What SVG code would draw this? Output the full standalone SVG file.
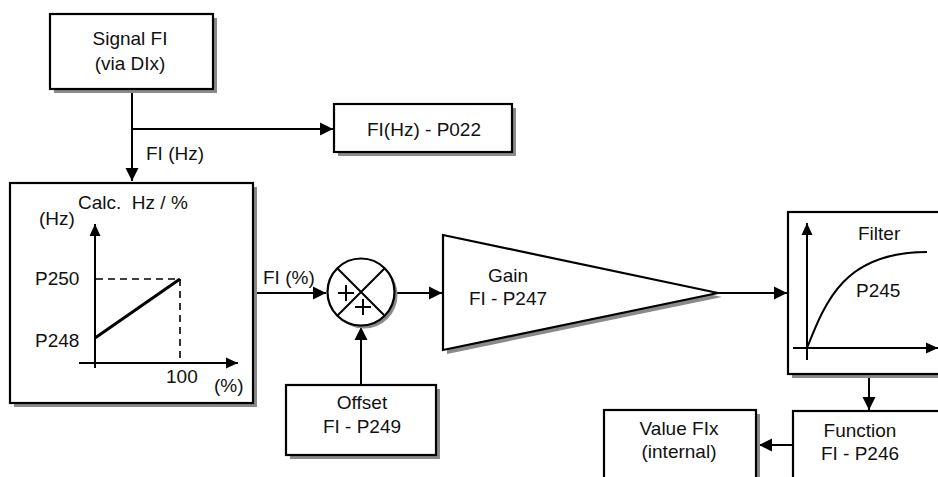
<svg xmlns="http://www.w3.org/2000/svg" width="938" height="477" viewBox="0 0 938 477">
<defs>
<marker id="ah" markerUnits="userSpaceOnUse" markerWidth="14" markerHeight="14" viewBox="0 0 14 14" refX="13" refY="7" orient="auto">
<path d="M0,0.5 L13,7 L0,13.5 Z" fill="#000"/>
</marker>
<marker id="ahs" markerUnits="userSpaceOnUse" markerWidth="13" markerHeight="12" viewBox="0 0 13 12" refX="12" refY="6" orient="auto">
<path d="M0,0.5 L12,6 L0,11.5 Z" fill="#000"/>
</marker>
</defs>
<style>
.box{fill:#fff;stroke:#000;stroke-width:2.2}
.sh{fill:#8a8a8a;stroke:none}
.ln{fill:none;stroke:#000;stroke-width:2}
.t{font-family:"Liberation Sans",Arial,sans-serif;font-size:19px;fill:#111}
.c{text-anchor:middle}
.dash{fill:none;stroke:#000;stroke-width:1.6;stroke-dasharray:7,5}
</style>
<rect width="938" height="477" fill="#fff"/>

<g id="connectors">
<path class="ln" d="M132,89 V181" marker-end="url(#ah)"/>
<path class="ln" d="M132,129 H333" marker-end="url(#ah)"/>
<path class="ln" d="M254,293 H326" marker-end="url(#ah)"/>
<path class="ln" d="M395,293 H442" marker-end="url(#ah)"/>
<path class="ln" d="M361,385 V327" marker-end="url(#ah)"/>
<path class="ln" d="M718,293 H787" marker-end="url(#ah)"/>
<path class="ln" d="M869,375 V410" marker-end="url(#ah)"/>
<path class="ln" d="M793,445 H759" marker-end="url(#ah)"/>
</g>

<g id="signal">
<rect class="sh" x="54" y="18" width="163" height="75"/>
<rect class="box" x="50" y="14" width="163" height="75"/>
<text class="t c" x="130" y="45">Signal FI</text>
<text class="t c" x="130" y="70">(via DIx)</text>
</g>
<text class="t" x="146" y="160">FI (Hz)</text>

<g id="p022">
<rect class="sh" x="338" y="108" width="178" height="48"/>
<rect class="box" x="334" y="104" width="178" height="48"/>
<text class="t c" x="424" y="136">FI(Hz) - P022</text>
</g>

<g id="calc">
<rect class="sh" x="14" y="187" width="243" height="220"/>
<rect class="box" x="10" y="183" width="243" height="220"/>
<text class="t" x="78" y="209" style="white-space:pre">Calc.  Hz / %</text>
<text class="t" x="39" y="225">(Hz)</text>
<path class="ln" d="M95,368 V224" marker-end="url(#ahs)"/>
<path class="ln" d="M79,363 H238" marker-end="url(#ahs)"/>
<path class="dash" d="M96,279 H180 V362"/>
<path fill="none" stroke="#000" stroke-width="3" d="M95,338 L180,279"/>
<text class="t" x="35" y="285">P250</text>
<text class="t" x="35" y="347">P248</text>
<text class="t" x="166" y="383">100</text>
<text class="t" x="214" y="392">(%)</text>
</g>
<text class="t" x="263" y="284">FI (%)</text>

<g id="sum">
<circle cx="364" cy="295" r="33.5" fill="#8a8a8a"/>
<circle cx="361" cy="292" r="33.5" fill="#fff" stroke="#000" stroke-width="2.2"/>
<path class="ln" d="M337.3,268.3 L384.7,315.7 M384.7,268.3 L337.3,315.7"/>
<path class="ln" d="M338,293 H354 M346,285 V301 M355,307 H371 M363,299 V315"/>
</g>

<g id="offset">
<rect class="sh" x="290" y="389" width="150" height="70"/>
<rect class="box" x="286" y="385" width="150" height="70"/>
<text class="t c" x="362" y="409">Offset</text>
<text class="t c" x="362" y="433">FI - P249</text>
</g>

<g id="gain">
<path d="M447,239 L722,297 L447,354 Z" fill="#8a8a8a"/>
<path d="M443,235 L718,293 L443,350 Z" fill="#fff" stroke="#000" stroke-width="2.2" stroke-linejoin="miter"/>
<text class="t c" x="508" y="282">Gain</text>
<text class="t c" x="508" y="305">FI - P247</text>
</g>

<g id="filter">
<rect class="sh" x="792" y="216" width="160" height="162"/>
<rect class="box" x="788" y="212" width="160" height="162"/>
<path class="ln" d="M807,360 V223" marker-end="url(#ahs)"/>
<path class="ln" d="M793,348 H938" marker-end="url(#ahs)"/>
<path class="ln" d="M807,348 C826,300 845,252 927,252"/>
<text class="t" x="858" y="240">Filter</text>
<text class="t" x="856" y="297">P245</text>
</g>

<g id="function">
<rect class="sh" x="797" y="415" width="160" height="80"/>
<rect class="box" x="793" y="411" width="160" height="80"/>
<text class="t c" x="860" y="437">Function</text>
<text class="t c" x="860" y="460">FI - P246</text>
</g>

<g id="value">
<rect class="sh" x="608" y="414" width="152" height="80"/>
<rect class="box" x="604" y="410" width="152" height="80"/>
<text class="t c" x="679" y="435">Value FIx</text>
<text class="t c" x="679" y="458">(internal)</text>
</g>
</svg>
